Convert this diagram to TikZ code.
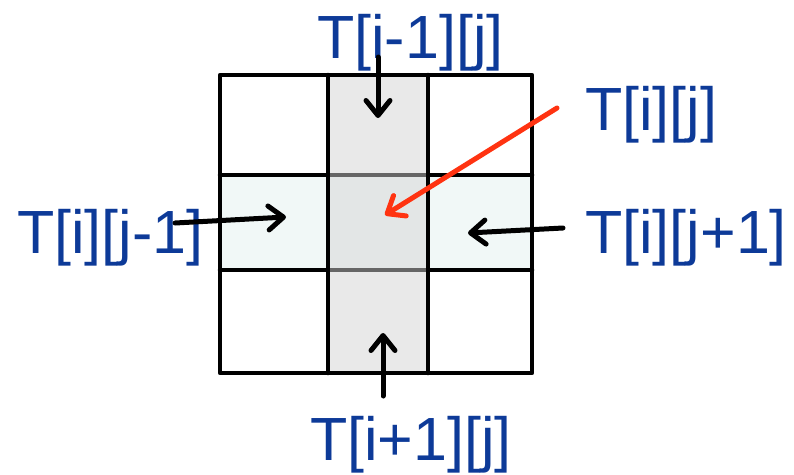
\documentclass[tikz,border=0pt]{standalone}
\usepackage{fontspec}
\setmainfont{Liberation Sans}
\usetikzlibrary{arrows.meta}
\definecolor{lblue}{HTML}{0D3A98}
\definecolor{colgray}{HTML}{E9E9E9}
\definecolor{cengray}{HTML}{E3E6E6}
\definecolor{sidecyan}{HTML}{F1F8F7}
\definecolor{midline}{HTML}{666666}
\definecolor{redarr}{HTML}{FF3311}
\begin{document}
\begin{tikzpicture}[x=1pt,y=-1pt,
  lbl/.style={font=\fontsize{61}{61}\selectfont, text=lblue, inner sep=0pt, anchor=base west},
  gridline/.style={line width=4.5pt, line cap=round, line join=round},
  arr/.style={line width=5pt, line cap=round, -{Straight Barb[length=15pt,width=24pt,line cap=round,line join=round]}},
  redarrow/.style={arr, draw=redarr}]
\useasboundingbox (0,0) rectangle (794,474);
% fills
\fill[colgray] (328,75) rectangle (428,373);
\fill[sidecyan] (220,175) rectangle (532,270);
\fill[cengray] (328,175) rectangle (428,270);
% grid
\draw[gridline] (220,75) rectangle (532,373);
\draw[gridline] (328,75) -- (328,373);
\draw[gridline] (428,75) -- (428,373);
\draw[gridline] (220,175) -- (328,175) (428,175) -- (532,175);
\draw[gridline] (220,270) -- (328,270) (428,270) -- (532,270);
\draw[line width=4.5pt, draw=midline] (330,175) -- (426,175) (330,270) -- (426,270);
% cell coordinates
\coordinate (up) at (378,118);
\coordinate (down) at (383,333);
\coordinate (leftc) at (286,217);
\coordinate (rightc) at (468,233);
\coordinate (center) at (385,215);
% labels
\node[lbl] (ltop) at (317,58) {T[i-1][j]};
\node[lbl] (lij) at (585,130) {T[i][j]};
\node[lbl] (lright) at (585,253) {T[i][j+1]};
\node[lbl] (lleft) at (17,253) {T[i][j-1]};
\node[lbl] (lbot) at (310,460) {T[i+1][j]};
% arrow starts
\coordinate (stop) at (378,57);
\coordinate (sbot) at (383,396);
\coordinate (sleft) at (175,223);
\coordinate (sright) at (563,228);
\coordinate (sred) at (557,108);
% arrows
\draw[arr] (stop) -- (up);
\draw[arr] (sbot) -- (down);
\draw[arr] (sleft) -- (leftc);
\draw[arr] (sright) -- (rightc);
\draw[redarrow] (sred) -- (center);
\end{tikzpicture}
\end{document}
